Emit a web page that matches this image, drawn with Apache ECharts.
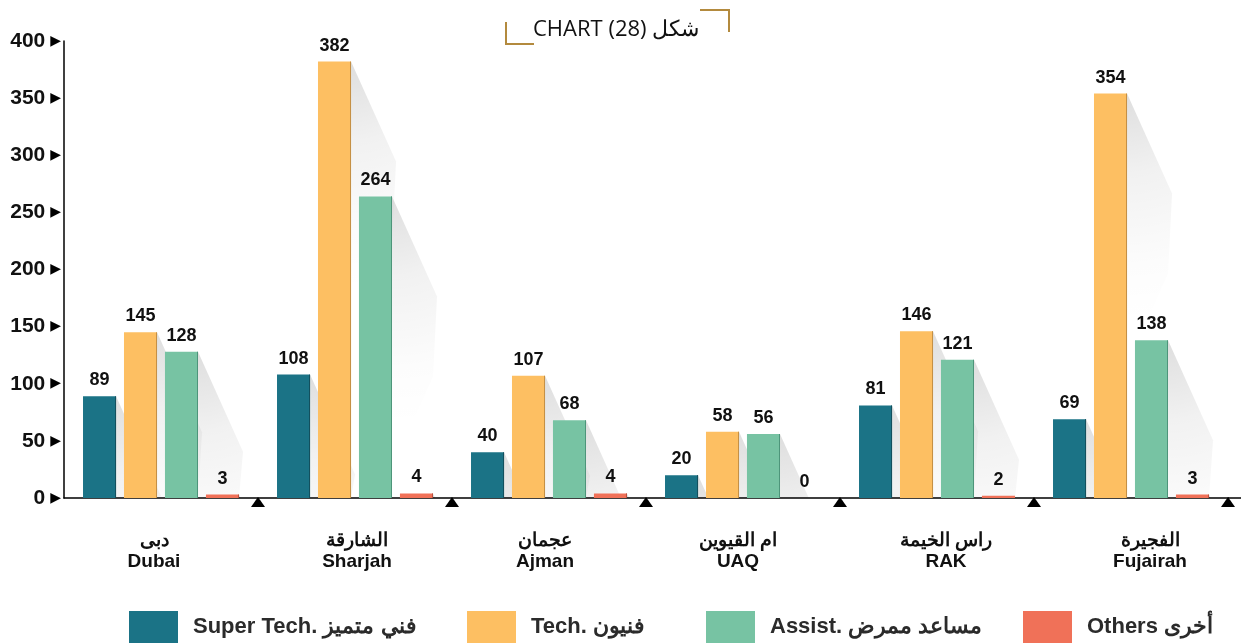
<!DOCTYPE html>
<html>
<head>
<meta charset="utf-8">
<script src="https://cdn.jsdelivr.net/npm/echarts@6/dist/echarts.min.js"></script>
<style>
  html, body { margin: 0; padding: 0; background: #fff; }
  #main { width: 1253px; height: 644px; }
</style>
</head>
<body>
<div id="main"></div>
<script>
// data
var citiesAr = ['دبى', 'الشارقة', 'عجمان', 'ام القيوين', 'راس الخيمة', 'الفجيرة'];
var citiesEn = ['Dubai', 'Sharjah', 'Ajman', 'UAQ', 'RAK', 'Fujairah'];
var seriesNames = ['Super Tech. فني متميز', 'Tech. فنيون', 'Assist. مساعد ممرض', 'Others أخرى'];
var superTech = [89, 108, 40, 20, 81, 69];
var tech = [145, 382, 107, 58, 146, 354];
var assist = [128, 264, 68, 56, 121, 138];
var others = [3, 4, 4, 0, 2, 3];
var yMin = 0, yMax = 400, yStep = 50;

var colors = ['#1b7386', '#fdbf62', '#77c3a3', '#f07158'];
var edgeColors = ['#134f5d', '#c48f45', '#4d957a', '#b9503f'];
var legendLeft = [129, 467, 706, 1023];
// the city names are not exactly centred under their groups
var labelShift = [-7, 2, -4, -5, 9, 19];

var CAT_GAP = 0.196, BAR_GAP = 0.24;
var GRID = { left: 64, right: 25, top: 41, bottom: 146 };

var allValues = [superTech, tech, assist, others];

var chart = echarts.init(document.getElementById('main'));

// shadow data: [category, value, series index]
var shadowData = [];
allValues.forEach(function (arr, s) {
  arr.forEach(function (v, i) {
    shadowData.push([i, v, s]);
  });
});

function barEdges(api, cat, s) {
  var c = api.coord([cat, 0]);
  var bw = api.size([1, 0])[0];
  var avail = bw * (1 - CAT_GAP);
  var w = avail / (4 + 3 * BAR_GAP);
  var left = c[0] - avail / 2 + s * w * (1 + BAR_GAP);
  return { left: left, right: left + w, base: c[1] };
}

function renderShadow(params, api) {
  var cat = api.value(0), val = api.value(1), s = api.value(2);
  var e = barEdges(api, cat, s);
  var top = api.coord([cat, val])[1];
  var base = e.base;
  var r = e.right;
  var h = base - top;
  if (h <= 3) return { type: 'group', children: [] };
  var y2 = Math.min(top + 100, base);
  var x2 = r + 45 * (y2 - top) / 100;
  var pts = [[r, top], [x2, y2]];
  if (y2 < base) {
    pts.push([x2 - 4, Math.min(base, top + 180)]);
    pts.push([r + 12, Math.min(base, top + 245)]);
    pts.push([r, Math.min(base, top + 270)]);
  } else {
    pts.push([r, base]);
  }
  return {
    type: 'polygon',
    shape: { points: pts },
    style: {
      fill: new echarts.graphic.RadialGradient(r, top, 230, [
        { offset: 0, color: 'rgba(0,0,0,0.13)' },
        { offset: 0.35, color: 'rgba(0,0,0,0.055)' },
        { offset: 0.75, color: 'rgba(0,0,0,0.01)' },
        { offset: 1, color: 'rgba(0,0,0,0)' }
      ], true)
    }
  };
}

function renderEdge(params, api) {
  var cat = api.value(0), val = api.value(1), s = api.value(2);
  var e = barEdges(api, cat, s);
  var top = api.coord([cat, val])[1];
  if (e.base - top < 3) return { type: 'group', children: [] };
  return {
    type: 'line',
    shape: { x1: e.right - 0.5, y1: top, x2: e.right - 0.5, y2: e.base },
    style: { stroke: edgeColors[s], lineWidth: 1 }
  };
}

function renderTriangle(params, api) {
  var c = api.coord([api.value(0), 0]);
  var bw = api.size([1, 0])[0];
  var x = c[0] + bw / 2;
  var y = c[1];
  return {
    type: 'polygon',
    shape: { points: [[x, y - 1], [x + 7, y + 9], [x - 7, y + 9]] },
    style: { fill: '#000' }
  };
}

var barSeries = allValues.map(function (arr, s) {
  return {
    name: seriesNames[s],
    type: 'bar',
    data: arr,
    barCategoryGap: (CAT_GAP * 100) + '%',
    barGap: (BAR_GAP * 100) + '%',
    itemStyle: { color: colors[s] },
    z: 3,
    label: {
      show: true,
      position: 'top',
      distance: 7,
      color: '#111',
      fontSize: 18,
      fontWeight: 'bold',
      fontFamily: 'Liberation Sans'
    }
  };
});

var legends = seriesNames.map(function (n, s) {
  return {
    data: [n],
    left: legendLeft[s],
    top: 611,
    padding: 0,
    itemWidth: 49,
    itemHeight: 32,
    itemGap: 0,
    icon: 'rect',
    selectedMode: false,
    textStyle: {
      fontSize: 22,
      fontWeight: 'bold',
      color: '#2b2b2b',
      fontFamily: 'Liberation Sans',
      padding: [2, 0, 0, 10]
    }
  };
});

var catData = citiesAr.map(function (a, i) {
  var d = labelShift[i];
  return {
    value: a + '\n' + citiesEn[i],
    textStyle: { padding: d > 0 ? [0, 0, 0, 2 * d] : [0, -2 * d, 0, 0] }
  };
});

var option = {
  animation: false,
  backgroundColor: '#fff',
  color: colors,
  title: {
    text: 'CHART (28) شكل',
    left: 533,
    top: 19,
    padding: 0,
    textStyle: {
      fontSize: 22,
      fontWeight: 'normal',
      color: '#111',
      fontFamily: 'Open Sans'
    }
  },
  legend: legends,
  grid: GRID,
  xAxis: {
    type: 'category',
    data: catData,
    axisLine: { lineStyle: { color: '#000', width: 1.5 } },
    axisTick: { show: false },
    axisLabel: {
      margin: 32,
      fontSize: 19,
      lineHeight: 21,
      fontWeight: 'bold',
      color: '#111',
      fontFamily: 'Liberation Sans'
    }
  },
  yAxis: {
    type: 'value',
    min: yMin,
    max: yMax,
    interval: yStep,
    splitLine: { show: false },
    axisTick: { show: false },
    axisLine: { show: true, lineStyle: { color: '#000', width: 1.5 } },
    axisLabel: {
      margin: 3,
      formatter: function (v) { return '{v|' + v + '}{t|▶}'; },
      rich: {
        v: { fontSize: 21, fontWeight: 'bold', color: '#111', fontFamily: 'Liberation Sans' },
        t: { fontSize: 14, color: '#000', padding: [0, 0, 0, 5], fontFamily: 'DejaVu Sans' }
      }
    }
  },
  graphic: [
    {
      type: 'line',
      shape: { x1: 1228, y1: 498, x2: 1241, y2: 498 },
      style: { stroke: '#000', lineWidth: 1.5 }
    },
    {
      type: 'polyline',
      shape: { points: [[506, 22], [506, 44], [534, 44]] },
      style: { stroke: '#b38a3e', lineWidth: 2, fill: null }
    },
    {
      type: 'polyline',
      shape: { points: [[700, 10], [729, 10], [729, 32]] },
      style: { stroke: '#b38a3e', lineWidth: 2, fill: null }
    }
  ],
  series: [
    {
      type: 'custom',
      name: 'shadow',
      renderItem: renderShadow,
      data: shadowData,
      z: 1,
      silent: true
    }
  ].concat(barSeries).concat([
    {
      type: 'custom',
      name: 'edge',
      renderItem: renderEdge,
      data: shadowData,
      z: 4,
      silent: true
    },
    {
      type: 'custom',
      name: 'ticks',
      renderItem: renderTriangle,
      data: citiesEn.map(function (c, i) { return [i]; }),
      z: 5,
      silent: true,
      clip: false
    }
  ])
};

chart.setOption(option);
</script>
</body>
</html>
